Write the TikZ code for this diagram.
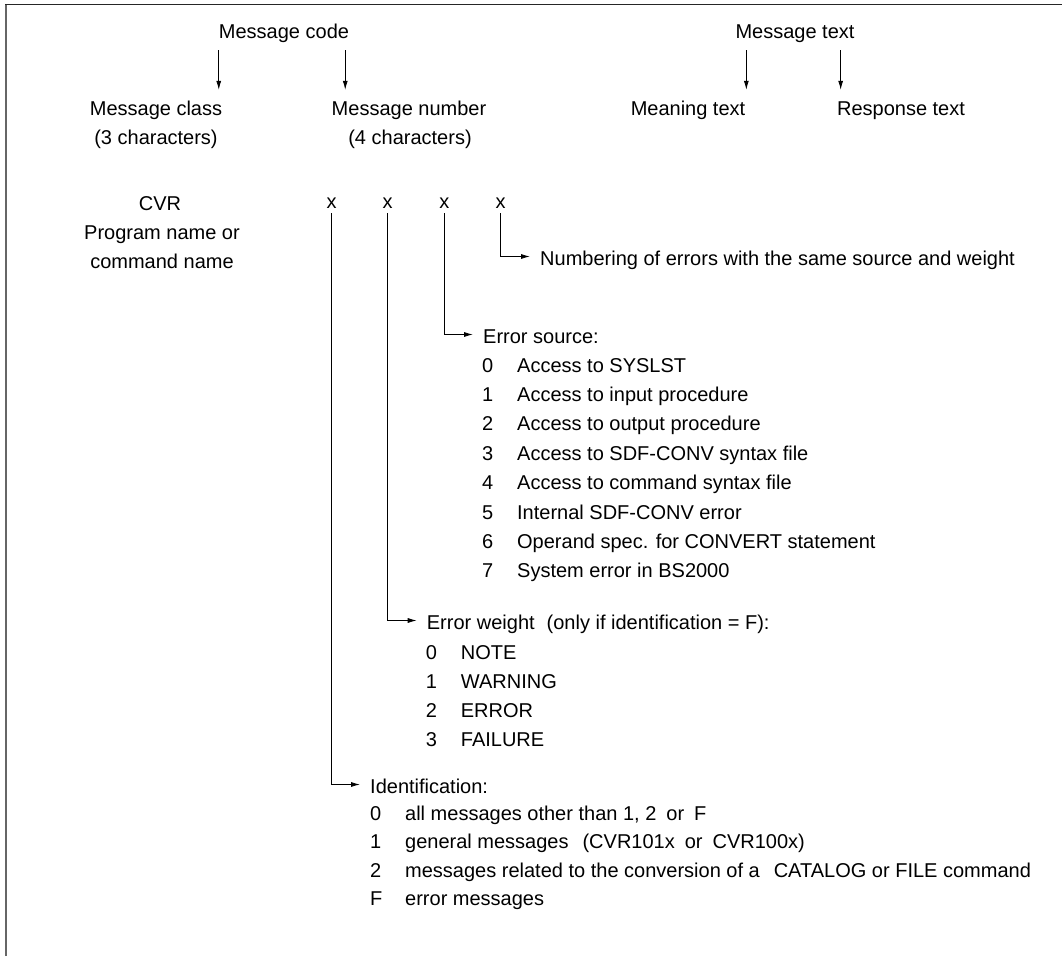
\documentclass[tikz,border=0pt]{standalone}
\usepackage{fontspec}
\setmainfont{Liberation Sans}
\usetikzlibrary{arrows.meta}

\newcommand{\dig}[1]{\makebox[35pt][l]{#1}}

\begin{document}
\begin{tikzpicture}[x=1pt, y=-1pt, font=\fontsize{20}{24}\selectfont,
  every node/.style={inner sep=0pt, text height=17pt, text depth=5pt},
  lbl/.style={anchor=base},
  item/.style={anchor=base west, text depth=0pt},
  arr/.style={-{Latex[length=9pt,width=5pt]}, line width=0.8pt}]

  \useasboundingbox (0,0) rectangle (1062,956);

  % Frame
  \draw[line width=2pt, black!60] (6,956) -- (6,4);
  \draw[line width=1.5pt, black!85] (5,4.5) -- (1062,4.5);

  % Message code
  \node[lbl] (code) at (284,38) {Message code};
  \node[lbl] (cls) at (156,115) {Message class};
  \node[lbl] (clschars) at (156,144) {(3 characters)};
  \node[lbl] (num) at (409,115) {Message number};
  \node[lbl] (numchars) at (410,144) {(4 characters)};
  \draw[arr, shorten <=7pt, shorten >=8pt] (code.south west) -- (code.south west |- cls.north);
  \draw[arr, shorten <=7pt, shorten >=8pt] ([xshift=-4pt]code.south east) -- ([xshift=-4pt]code.south east |- num.north);

  % Message text
  \node[lbl] (msgtext) at (795,38) {Message text};
  \node[lbl] (meaning) at (688,115) {Meaning text};
  \node[lbl] (response) at (901,115) {Response text};
  \draw[arr, shorten <=7pt, shorten >=8pt] ([xshift=11pt]msgtext.south west) -- ([xshift=11pt]msgtext.south west |- meaning.north);
  \draw[arr, shorten <=7pt, shorten >=8pt] ([xshift=-14pt]msgtext.south east) -- ([xshift=-14pt]msgtext.south east |- response.north);

  % Class and number positions
  \node[lbl] (cvr) at (160,210) {CVR};
  \node[lbl] (prog) at (162,239) {Program name or};
  \node[lbl] (cmd) at (162,268) {command name};
  \node[lbl] (x1) at (331.7,208) {x};
  \node[lbl] (x2) at (387.7,208) {x};
  \node[lbl] (x3) at (444.3,208) {x};
  \node[lbl] (x4) at (500.7,208) {x};

  % Numbering
  \node[item] (numbering) at (540,265) {Numbering of errors with the same source and weight};
  \draw[arr] (x4.south) |- ([xshift=-10pt]numbering.west);

  % Error source
  \node[item] (source) at (483,343) {Error source:};
  \node[item] (src0) at (482,372) {\dig{0}Access to SYSLST};
  \node[item] (src1) at (482,401.4) {\dig{1}Access to input procedure};
  \node[item] (src2) at (482,430.8) {\dig{2}Access to output procedure};
  \node[item] (src3) at (482,460.2) {\dig{3}Access to SDF-CONV syntax file};
  \node[item] (src4) at (482,489.6) {\dig{4}Access to command syntax file};
  \node[item] (src5) at (482,519) {\dig{5}Internal SDF-CONV error};
  \node[item] (src6) at (482,548.4) {\dig{6}Operand spec. for CONVERT statement};
  \node[item] (src7) at (482,577.8) {\dig{7}System error in BS2000};
  \draw[arr] (x3.south) |- ([xshift=-10pt]source.west);

  % Error weight
  \node[item] (weight) at (426.7,629) {Error weight\hspace{12pt}(only if identification = F):};
  \node[item] (wgt0) at (425.7,659) {\dig{0}NOTE};
  \node[item] (wgt1) at (425.7,688) {\dig{1}WARNING};
  \node[item] (wgt2) at (425.7,717) {\dig{2}ERROR};
  \node[item] (wgt3) at (425.7,746) {\dig{3}FAILURE};
  \draw[arr] (x2.south) |- ([xshift=-10pt]weight.west);

  % Identification
  \node[item] (ident) at (370,793) {Identification:};
  \node[item] (id0) at (370,820) {\dig{0}all messages other than 1, 2\hspace{10pt}or\hspace{10pt}F};
  \node[item] (id1) at (370,848.5) {\dig{1}general messages\hspace{14pt}(CVR101x\hspace{10pt}or\hspace{10pt}CVR100x)};
  \node[item] (id2) at (370,877) {\dig{2}messages related to the conversion of a\hspace{14pt}CATALOG or FILE command};
  \node[item] (idF) at (370,905.5) {\dig{F}error messages};
  \draw[arr] (x1.south) |- ([xshift=-10pt]ident.west);
\end{tikzpicture}
\end{document}
